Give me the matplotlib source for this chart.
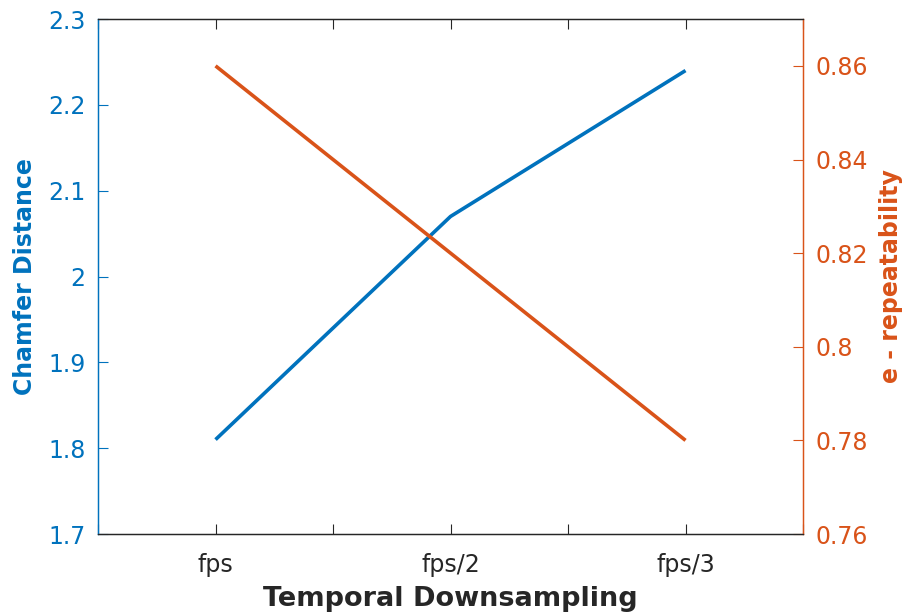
import matplotlib
matplotlib.use("Agg")
import matplotlib.pyplot as plt
from matplotlib.ticker import FixedLocator, NullFormatter

plt.rcParams['font.family'] = ['DejaVu Sans']

categories = ['fps', 'fps/2', 'fps/3']
chamfer = [1.81, 2.07, 2.24]
repeatability = [0.86, 0.82, 0.78]

left_ticks = [1.7, 1.8, 1.9, 2.0, 2.1, 2.2, 2.3]
left_labels = ['1.7', '1.8', '1.9', '2', '2.1', '2.2', '2.3']
right_ticks = [0.76, 0.78, 0.80, 0.82, 0.84, 0.86]
right_labels = ['0.76', '0.78', '0.8', '0.82', '0.84', '0.86']

blue = '#0072BD'
orange = '#D95319'
dark = '#262626'

fig = plt.figure(figsize=(9.12, 6.15), dpi=100)
ax = fig.add_axes([0.1075, 0.1317, 0.773, 0.8373])
ax2 = ax.twinx()

x = list(range(1, len(categories) + 1))
ax.plot(x, chamfer, color=blue, lw=2.6, solid_capstyle='butt')
ax2.plot(x, repeatability, color=orange, lw=2.6, solid_capstyle='butt')

ax.set_xlim(0.5, 3.5)
ax.set_ylim(1.7, 2.3)
ax2.set_ylim(0.76, 0.87)

ax.set_xticks(x)
ax.set_xticklabels(categories)
ax.xaxis.set_minor_locator(FixedLocator([0.5, 1.5, 2.5, 3.5]))
ax.xaxis.set_minor_formatter(NullFormatter())
ax.set_yticks(left_ticks)
ax.set_yticklabels(left_labels)
ax2.set_yticks(right_ticks)
ax2.set_yticklabels(right_labels)

ax.tick_params(axis='x', which='both', direction='in', top=True, bottom=True,
               length=7, width=0.8, color=dark, labelcolor=dark, labelsize=17, pad=14)
ax.tick_params(axis='y', direction='in', left=True, right=False, length=7,
               width=0.8, color=blue, labelcolor=blue, labelsize=17, pad=9)
ax2.tick_params(axis='y', direction='in', left=False, right=True, length=7,
                width=0.8, color=orange, labelcolor=orange, labelsize=17, pad=9)

for a in (ax, ax2):
    a.spines['top'].set_color(dark)
    a.spines['bottom'].set_color(dark)
    a.spines['left'].set_color(blue)
    a.spines['right'].set_color(orange)
    for s in a.spines.values():
        s.set_linewidth(0.9)

ax.set_xlabel('Temporal Downsampling', fontsize=19.5, fontweight='bold', color=dark, labelpad=6)
ax.set_ylabel('Chamfer Distance', fontsize=17, fontweight='bold', color=blue, labelpad=8)
ax2.set_ylabel('e - repeatability', fontsize=17, fontweight='bold', color=orange, labelpad=8)

fig.savefig('out.png', dpi=100)
